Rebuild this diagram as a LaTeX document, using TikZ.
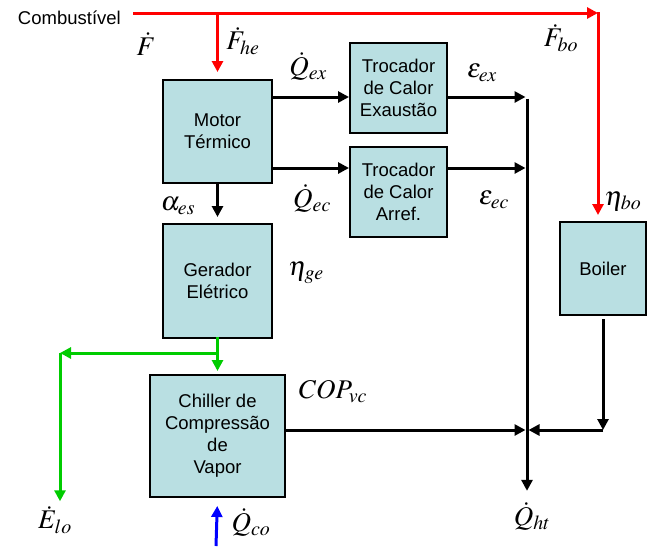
\documentclass[tikz,border=0pt]{standalone}
\usepackage{mathptmx}
\usepackage{fontspec}
\setmainfont{Liberation Sans}
\usetikzlibrary{arrows.meta,calc,positioning}
\definecolor{boxFill}{HTML}{B9DFE2}
\definecolor{fuelRed}{HTML}{FF0000}
\definecolor{elecGreen}{HTML}{00CC00}
\definecolor{coldBlue}{HTML}{0000FF}

\begin{document}
\begin{tikzpicture}[
    x=1pt, y=-1pt,
    font=\fontsize{18.5}{22}\selectfont,
    unit/.style={draw, line width=2pt, fill=boxFill, align=center, inner sep=0pt},
    lbl/.style={font=\fontsize{27}{30}\selectfont, inner sep=0pt},
    flow/.style={-{Triangle[length=11pt,width=11pt]}, line width=3pt, color=black},
    fuel/.style={-{Triangle[length=11pt,width=11pt]}, line width=3pt, color=fuelRed},
    elec/.style={-{Triangle[length=11pt,width=11pt]}, line width=3pt, color=elecGreen},
    cold/.style={-{Triangle[length=11pt,width=11pt]}, line width=3pt, color=coldBlue}
]
    \useasboundingbox (0,0) rectangle (652,546);

    % blocos
    \node[unit, minimum width=109pt, minimum height=103pt] (motor) at (217.5,131.5) {Motor\\Térmico};
    \node[unit, minimum width=97pt, minimum height=90pt] (exaust) at (398.5,88) {Trocador\\de Calor\\Exaustão};
    \node[unit, minimum width=97pt, minimum height=90pt] (arref) at (398.5,192) {Trocador\\de Calor\\Arref.};
    \node[unit, minimum width=109pt, minimum height=114pt] (gerador) at (217.5,281) {Gerador\\Elétrico};
    \node[unit, minimum width=135pt, minimum height=122pt] (chiller) at (217.5,436) {Chiller de\\Compressão\\de\\Vapor};
    \node[unit, minimum width=86pt, minimum height=93pt] (boiler) at (603,268.5) {Boiler};

    % pontos de ligacao
    \node[anchor=east, inner sep=0pt] (comb) at (121,18) {Combustível};
    \coordinate (fstart) at (133,13);
    \coordinate (fcorner) at (598,13);
    \coordinate (htop) at (527,97);
    \coordinate (hlow) at (527,168);
    \coordinate (hmid) at (527,430);
    \coordinate (eleft) at (60,353);
    \coordinate (coldin) at (216,546);

    % rotulos
    \node[lbl] (f) at (146,44) {$\dot{F}$};
    \node[lbl] (fhe) at (243,41) {$\dot{F}_{he}$};
    \node[lbl] (fbo) at (561,38) {$\dot{F}_{bo}$};
    \node[lbl] (qex) at (308,66) {$\dot{Q}_{ex}$};
    \node[lbl] (eex) at (482,73) {$\varepsilon_{ex}$};
    \node[lbl] (qec) at (312,198) {$\dot{Q}_{ec}$};
    \node[lbl] (eec) at (494,200) {$\varepsilon_{ec}$};
    \node[lbl] (aes) at (178,206) {$\alpha_{es}$};
    \node[lbl] (nge) at (306,273) {$\eta_{ge}$};
    \node[lbl] (nbo) at (623,201) {$\eta_{bo}$};
    \node[lbl] (cop) at (333,392) {$COP_{vc}$};
    \node[lbl] (elo) at (55,520) {$\dot{E}_{lo}$};
    \node[lbl] (qco) at (251,522) {$\dot{Q}_{co}$};
    \node[lbl] (qht) at (532,516) {$\dot{Q}_{ht}$};

    % combustivel
    \draw[fuel] (fstart) -- (fcorner);
    \draw[fuel, shorten >=7pt] (motor.north |- fstart) -- (motor.north);
    \draw[fuel, -, line cap=rect] (fcorner) -- (fcorner |- 0,150);
    \draw[fuel, shorten >=6pt] (fcorner |- 0,150) -- (fcorner |- boiler.north);

    % calor
    \draw[flow] (motor.east |- htop) -- (exaust.west |- htop);
    \draw[flow] (motor.east |- hlow) -- (arref.west |- hlow);
    \draw[flow, shorten >=1.5pt] (exaust.east |- htop) -- (htop);
    \draw[flow, shorten >=1.5pt] (arref.east |- hlow) -- (hlow);
    \draw[flow, shorten >=11pt] ([yshift=-1.5pt]htop) -- (qht.north -| htop);
    \draw[flow, shorten >=1.5pt] (chiller.east |- hmid) -- (hmid);
    \draw[flow, shorten <=3pt] (boiler.south) -- (boiler.south |- hmid);
    \draw[flow, shorten >=1.5pt] (boiler.south |- hmid) -- (hmid);
    \draw[flow, shorten >=6pt] (motor.south) -- (gerador.north);

    % eletricidade
    \draw[elec, shorten >=3pt] ([yshift=2pt]gerador.south) -- (chiller.north);
    \draw[elec] (gerador.south |- eleft) -- (eleft);
    \draw[elec, shorten >=5pt] (eleft) -- (elo.north -| eleft);

    % agua gelada
    \draw[cold, shorten >=8pt] (coldin) -- (chiller.south);
\end{tikzpicture}
\end{document}
